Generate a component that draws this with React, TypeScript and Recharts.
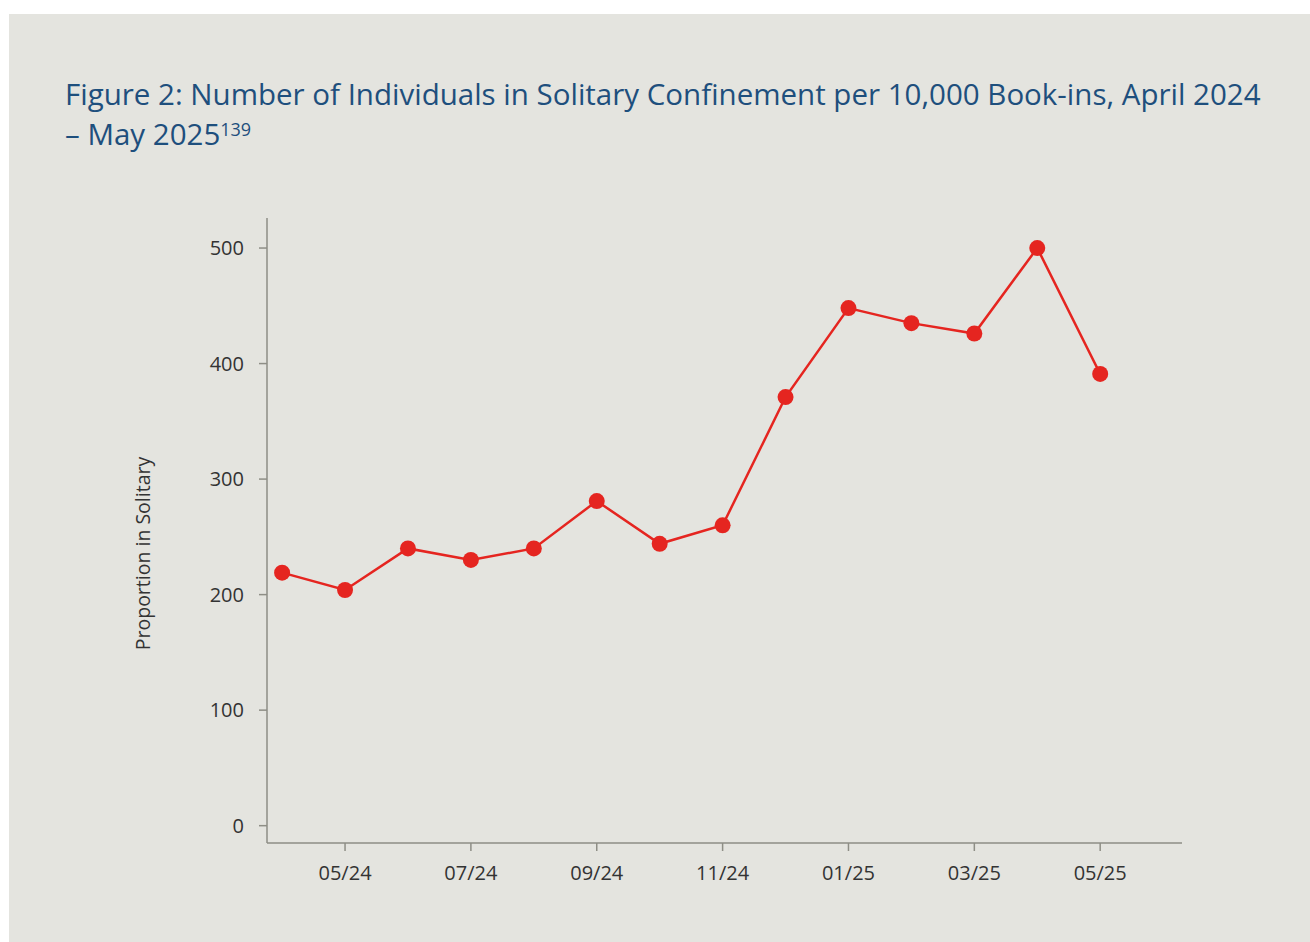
import React from 'react';
import { LineChart, Line, XAxis, YAxis } from 'recharts';

if (typeof document !== 'undefined') document.body.style.margin = '0';

const monthLabels = [
  '04/24', '05/24', '06/24', '07/24', '08/24', '09/24', '10/24',
  '11/24', '12/24', '01/25', '02/25', '03/25', '04/25', '05/25',
];
const solitaryRate = [219, 204, 240, 230, 240, 281, 244, 260, 371, 448, 435, 426, 500, 391];
const xTicks = [1, 3, 5, 7, 9, 11, 13];
const yTicks = [0, 100, 200, 300, 400, 500];

const data = monthLabels.map((m, i) => ({ idx: i, month: m, rate: solitaryRate[i] }));

const fontFamily = '"Open Sans", "Noto Sans", sans-serif';
const tickStyle = { fill: '#333333', fontSize: 20, fontFamily };
const axisColor = '#8e8e86';
const red = '#e52520';

const YLabel = (props: any) => {
  const { viewBox } = props;
  const x = viewBox.x + 5;
  const y = viewBox.y + viewBox.height / 2 + 23;
  return (
    <text
      x={x}
      y={y}
      transform={`rotate(-90, ${x}, ${y})`}
      textAnchor="middle"
      dominantBaseline="central"
      fill="#333333"
      fontSize={19.5}
      fontFamily={fontFamily}
    >
      Proportion in Solitary
    </text>
  );
};

export default function App() {
  return (
    <div style={{ position: 'relative', width: 1310, height: 942, background: '#ffffff', overflow: 'hidden' }}>
      <div style={{ position: 'absolute', left: 9, top: 14, width: 1301, height: 928, background: '#e4e4df' }}>
        <div
          style={{
            position: 'absolute',
            left: 56,
            top: 60,
            fontFamily,
            fontSize: 29.5,
            lineHeight: '40px',
            color: '#1e4f7d',
            whiteSpace: 'nowrap',
          }}
        >
          Figure 2: Number of Individuals in Solitary Confinement per 10,000 Book-ins, April 2024
          <br />
          – May 2025<sup style={{ fontSize: 18, verticalAlign: 'top', lineHeight: '30px' }}>139</sup>
        </div>
        <LineChart
          width={1301}
          height={928}
          data={data}
          margin={{ top: 204, right: 128, bottom: 59, left: 128 }}
          style={{ position: 'absolute', left: 0, top: 0 }}
        >
          <XAxis
            dataKey="idx"
            type="number"
            domain={[-0.24, 14.3]}
            ticks={xTicks}
            tickFormatter={(v: number) => monthLabels[v]}
            tick={tickStyle}
            axisLine={{ stroke: axisColor, strokeWidth: 1.5 }}
            tickLine={{ stroke: axisColor, strokeWidth: 1.5 }}
            tickSize={8}
            tickMargin={15}
            height={40}
            interval={0}
            allowDataOverflow
          />
          <YAxis
            type="number"
            domain={[-15, 526]}
            ticks={yTicks}
            tick={tickStyle}
            axisLine={{ stroke: axisColor, strokeWidth: 1.5 }}
            tickLine={{ stroke: axisColor, strokeWidth: 1.5 }}
            tickSize={8}
            tickMargin={15}
            width={130}
            interval={0}
            allowDataOverflow
            label={{ content: YLabel }}
          />
          <Line
            type="linear"
            dataKey="rate"
            stroke={red}
            strokeWidth={2.5}
            dot={{ r: 8, fill: red, stroke: red, strokeWidth: 0 }}
            activeDot={false}
            isAnimationActive={false}
          />
        </LineChart>
      </div>
    </div>
  );
}
